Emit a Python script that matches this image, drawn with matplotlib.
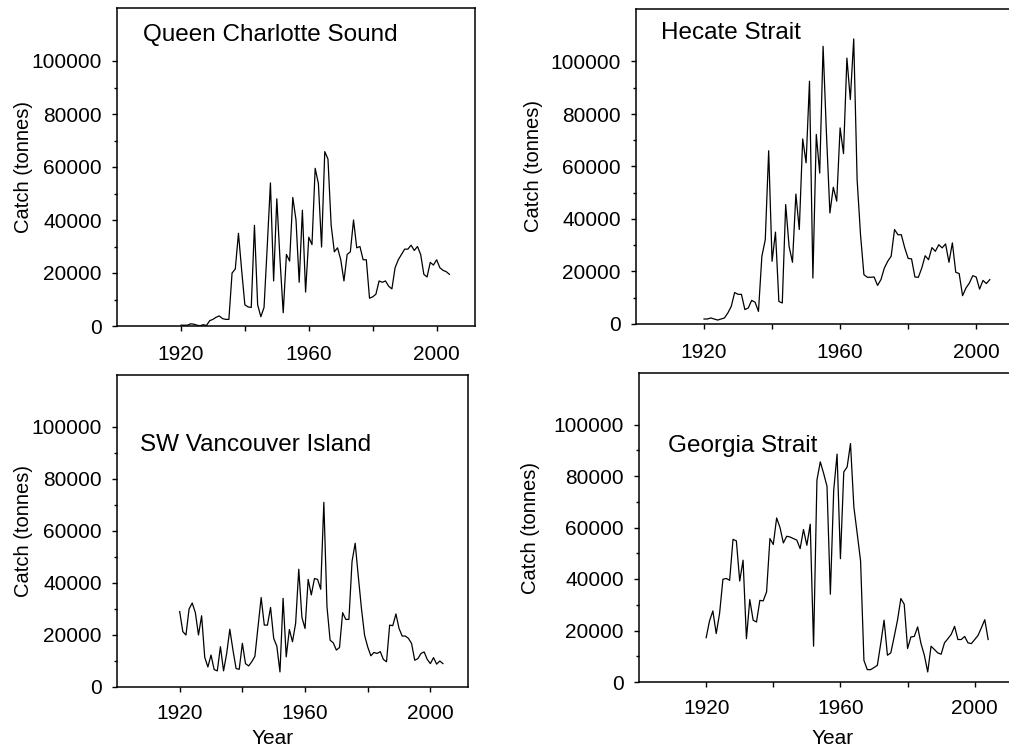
import matplotlib
matplotlib.use('Agg')
import matplotlib.pyplot as plt
from matplotlib.ticker import MultipleLocator

plt.rcParams['font.family'] = ['Liberation Sans', 'DejaVu Sans']

years = list(range(1920, 2005))

queen_charlotte = [
    300, 300, 300, 800, 700, 300, 100, 500, 200, 2000,
    2500, 3300, 3800, 2800, 2500, 2500, 20000, 21500, 35000, 21000,
    8000, 7200, 7000, 38000, 8000, 3500, 7000, 30000, 54000, 17000,
    48000, 25000, 5000, 27000, 24500, 48500, 40000, 16500, 43700, 12800,
    33500, 30700, 59500, 53800, 29800, 65800, 63000, 38000, 28000, 29500,
    25000, 17000, 27000, 28000, 40000, 29500, 30000, 25000, 25000, 10500,
    11000, 12000, 17000, 16500, 17000, 15000, 14000, 22000, 25000, 27000,
    29000, 29000, 30500, 28500, 30000, 27000, 19500, 18500, 24000, 23000,
    25000, 22000, 21000, 20500, 19500,
]

hecate = [
    1900, 1900, 2300, 1900, 1500, 1900, 2300, 4200, 6700, 12000,
    11300, 11300, 5500, 6100, 9000, 8300, 4800, 25800, 32100, 66000,
    23900, 35000, 8600, 8000, 45500, 29600, 23500, 49500, 36000, 70500,
    61400, 92500, 17500, 72200, 57500, 105800, 72000, 42300, 52100, 46800,
    74700, 64900, 101300, 85500, 108600, 55000, 34000, 18800, 17800, 17800,
    17900, 14700, 16900, 21300, 23900, 25800, 36000, 34000, 34000, 29000,
    25000, 24800, 17900, 17800, 21300, 26000, 24500, 29100, 27700, 30200,
    29000, 30500, 23500, 30900, 19700, 19200, 10800, 13700, 15600, 18400,
    17900, 13300, 16600, 15400, 16900,
]

sw_vancouver = [
    29000, 21300, 20000, 30000, 32300, 28600, 20000, 27400, 11400, 7700,
    12300, 6700, 6200, 15500, 6200, 12900, 22200, 14200, 7100, 6800,
    16800, 9000, 8100, 9700, 11800, 23200, 34400, 23800, 23800, 30600,
    18700, 15700, 5800, 34100, 11600, 22100, 17400, 24500, 45300, 26800,
    22500, 41400, 35400, 41700, 41400, 37600, 71000, 30900, 18000, 17000,
    14200, 15200, 28600, 26000, 26000, 48300, 55300, 42500, 30200, 19900,
    15400, 12000, 13300, 12900, 13600, 10600, 9700, 23800, 23600, 28100,
    22500, 19600, 19600, 18700, 16700, 10300, 10900, 12900, 13500, 10600,
    9000, 11300, 8800, 10000, 9000,
]

georgia = [
    17200, 23700, 27600, 18800, 26600, 39900, 40200, 39500, 55400, 54800,
    39200, 47300, 16800, 32000, 24000, 23300, 31700, 31500, 35000, 55700,
    53400, 63700, 60000, 54000, 56600, 56300, 55700, 55100, 51800, 59200,
    53100, 61300, 13900, 78400, 85500, 81000, 76000, 34100, 74500, 88500,
    47900, 81600, 83500, 92600, 68000, 57600, 47000, 8400, 4800, 4800,
    5600, 6500, 14900, 24000, 10400, 11300, 17500, 24000, 32400, 30200,
    13000, 17500, 17700, 21400, 14900, 10400, 3900, 13900, 12600, 11300,
    10800, 15200, 16800, 18500, 21600, 16500, 16500, 17700, 15200, 14900,
    16500, 18100, 21100, 24200, 16500,
]

W, H = 1009, 750


def add_panel(fig, box, values, name, name_xy, ylab_x, tick_pad, xlab=None):
    left, top, right, bottom = box
    ax = fig.add_axes([left / W, 1 - bottom / H, (right - left) / W, (bottom - top) / H])
    ax.plot(years, values, color='black', linewidth=0.9)
    ax.set_xlim(1900, 2012)
    ax.set_ylim(0, 120000)

    ax.set_xticks([1920, 1940, 1960, 1980, 2000])
    ax.set_xticklabels(['1920', '', '1960', '', '2000'])
    ax.set_yticks([0, 20000, 40000, 60000, 80000, 100000])
    ax.set_yticklabels(['0', '20000', '40000', '60000', '80000', '100000'])
    ax.yaxis.set_minor_locator(MultipleLocator(10000))
    ax.set_yticks([10000, 30000, 50000, 70000, 90000], minor=True)

    ax.tick_params(axis='both', which='major', direction='out', length=3.5,
                   width=1.0, labelsize=15)
    ax.tick_params(axis='x', which='major', pad=tick_pad)
    ax.tick_params(axis='y', which='major', pad=7.5)
    ax.tick_params(axis='y', which='minor', direction='out', length=2.2, width=1.0)
    for s in ax.spines.values():
        s.set_linewidth(1.1)

    ax.set_ylabel('Catch (tonnes)', fontsize=14.5)
    ax.yaxis.set_label_coords(ylab_x, 0.5)
    if xlab is not None:
        ax.set_xlabel('Year', fontsize=15)
        ax.xaxis.set_label_coords(xlab[0], xlab[1])

    ax.text(name_xy[0], name_xy[1], name, fontsize=17.5, va='center', ha='left')
    return ax


fig = plt.figure(figsize=(W / 100, H / 100), dpi=100)

add_panel(fig, (117, 8, 475, 326), queen_charlotte, 'Queen Charlotte Sound',
          (1908, 110000), -0.235, 10.5)
add_panel(fig, (636, 9, 1017, 324), hecate, 'Hecate Strait',
          (1907.4, 111000), -0.244, 10.5)
add_panel(fig, (117, 375, 468, 687), sw_vancouver, 'SW Vancouver Island',
          (1907.4, 93200), -0.239, 8.5, xlab=(0.442, -0.135))
add_panel(fig, (639, 373, 1015, 682), georgia, 'Georgia Strait',
          (1908.6, 91500), -0.263, 8.5, xlab=(0.516, -0.152))

fig.savefig('out.png', dpi=100)
